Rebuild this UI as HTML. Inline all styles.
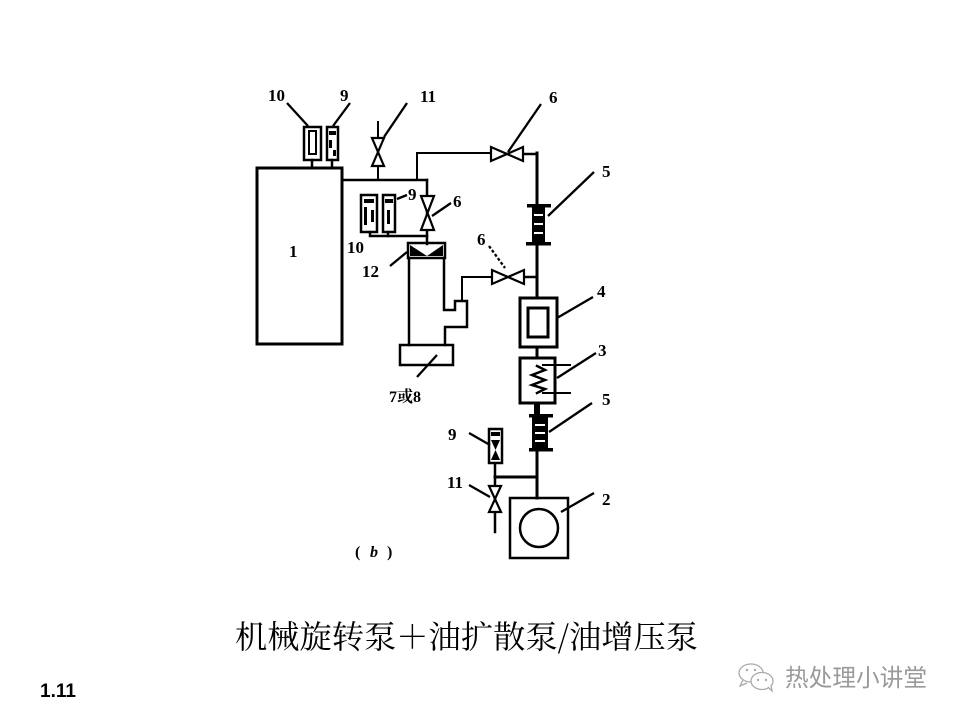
<!DOCTYPE html>
<html><head><meta charset="utf-8">
<style>
html,body{margin:0;padding:0;background:#fff;}
svg{display:block;}
</style></head>
<body>
<svg width="960" height="720" viewBox="0 0 960 720" xmlns="http://www.w3.org/2000/svg">
<rect width="960" height="720" fill="#fff"/>
<g stroke="#000" stroke-width="2.5" fill="none" stroke-linecap="square">
  <rect x="304" y="127" width="17" height="33"/>
  <rect x="309" y="131" width="7" height="23" stroke-width="2"/>
  <rect x="327" y="127" width="11" height="33"/>
  <line x1="312" y1="160" x2="312" y2="168"/>
  <line x1="332" y1="160" x2="332" y2="168"/>
  <rect x="257" y="168" width="85" height="176" stroke-width="3"/>
  <polyline points="342,180 427,180"/>
  <line x1="378" y1="122" x2="378" y2="180" stroke-width="2"/>
  <polyline points="417,180 417,153 490,153" stroke-width="2"/>
  <line x1="524" y1="154" x2="537" y2="154"/>
  <line x1="427" y1="180" x2="427" y2="244"/>
  <rect x="361" y="195" width="16" height="37"/>
  <rect x="383" y="195" width="12" height="37"/>
  <polyline points="370,232 370,236 427,236"/>
  <line x1="388" y1="232" x2="388" y2="236"/>
  <rect x="408" y="243" width="37" height="15"/>
  <line x1="409" y1="258" x2="409" y2="345"/>
  <polyline points="444,258 444,310 455,310 455,301 467,301 467,327 445,327 445,345"/>
  <polyline points="462,301 462,277 492,277" stroke-width="2"/>
  <line x1="524" y1="277" x2="537" y2="277"/>
  <rect x="400" y="345" width="53" height="20"/>
  <line x1="537" y1="153" x2="537" y2="498" stroke-width="3"/>
  <rect x="520" y="298" width="37" height="49" fill="#fff" stroke-width="3"/>
  <rect x="528" y="308" width="20" height="29" stroke-width="3"/>
  <rect x="520" y="358" width="35" height="45" fill="#fff" stroke-width="3"/>
  <line x1="543" y1="365" x2="570" y2="365" stroke-width="2"/>
  <line x1="543" y1="393" x2="570" y2="393" stroke-width="2"/>
  <polyline points="537,366 545,370 532,375 545,380 532,385 545,389 537,393" stroke-width="2.5"/>
  <rect x="510" y="498" width="58" height="60" stroke-width="2.5"/>
  <circle cx="539" cy="528" r="19" stroke-width="2.5"/>
  <line x1="495" y1="477" x2="537" y2="477" stroke-width="3"/>
  <line x1="495" y1="463" x2="495" y2="532" stroke-width="2.5"/>
  <rect x="489" y="429" width="13" height="34" fill="#fff"/>
</g>
<g fill="#fff" stroke="#000" stroke-width="2.2" stroke-linejoin="miter">
  <polygon points="372,138 384,138 378,152"/>
  <polygon points="372,166 384,166 378,152"/>
  <polygon points="491,147 491,161 507,154"/>
  <polygon points="523,147 523,161 507,154"/>
  <polygon points="421,196 434,196 427.5,213"/>
  <polygon points="421,230 434,230 427.5,213"/>
  <polygon points="492,270 492,284 508,277"/>
  <polygon points="524,270 524,284 508,277"/>
  <polygon points="489,486 501,486 495,499"/>
  <polygon points="489,512 501,512 495,499"/>
</g>
<g fill="#000">
  <rect x="329" y="131" width="7" height="4"/>
  <rect x="329" y="140" width="3" height="8"/>
  <rect x="333" y="150" width="3" height="6"/>
  <rect x="364" y="199" width="10" height="4"/>
  <rect x="364" y="207" width="3" height="18"/>
  <rect x="371" y="210" width="3" height="12"/>
  <rect x="385" y="199" width="8" height="4"/>
  <rect x="387" y="210" width="3" height="14"/>
  <rect x="491" y="432" width="9" height="4"/>
  <polygon points="491,440 500,440 495.5,450"/>
  <polygon points="491,460 500,460 495.5,450"/>
  <polygon points="410,245 427,256 443,245 443,256 410,256"/>
  <rect x="527" y="204" width="24" height="3.5"/>
  <rect x="532" y="207" width="13" height="36"/>
  <rect x="526" y="242" width="25" height="3.5"/>
  <rect x="529" y="414" width="24" height="3.5"/>
  <rect x="532" y="417" width="16" height="32"/>
  <rect x="529" y="448" width="24" height="3.5"/>
  <rect x="534" y="403" width="6" height="12"/>
</g>
<g fill="#fff">
  <polygon points="413,247 427,254 440,247"/>
  <rect x="534" y="214" width="9" height="2"/>
  <rect x="534" y="223" width="9" height="2"/>
  <rect x="534" y="232" width="9" height="2"/>
  <rect x="535" y="424" width="10" height="2"/>
  <rect x="535" y="432" width="10" height="2"/>
  <rect x="535" y="440" width="10" height="2"/>
</g>
<g stroke="#000" stroke-width="2.3" fill="none">
  <line x1="287" y1="103" x2="308" y2="126"/>
  <line x1="350" y1="103" x2="333" y2="126"/>
  <line x1="407" y1="103" x2="384" y2="137"/>
  <line x1="541" y1="104" x2="508" y2="152"/>
  <line x1="451" y1="203" x2="432" y2="216"/>
  <line x1="397" y1="199" x2="407" y2="195"/>
  <line x1="390" y1="266" x2="407" y2="252"/>
  <line x1="489" y1="246" x2="505" y2="268" stroke-dasharray="3,2"/>
  <line x1="437" y1="355" x2="417" y2="377"/>
  <line x1="594" y1="172" x2="548" y2="216"/>
  <line x1="593" y1="297" x2="557" y2="318"/>
  <line x1="596" y1="353" x2="557" y2="378"/>
  <line x1="592" y1="403" x2="549" y2="432"/>
  <line x1="594" y1="493" x2="561" y2="512"/>
  <line x1="469" y1="433" x2="490" y2="445"/>
  <line x1="469" y1="485" x2="490" y2="497"/>
</g>
<g font-family="'Liberation Serif', serif" font-size="17" fill="#000" font-weight="bold">
  <text x="268" y="101">10</text>
  <text x="340" y="101">9</text>
  <text x="420" y="102">11</text>
  <text x="549" y="103">6</text>
  <text x="289" y="257">1</text>
  <text x="453" y="207">6</text>
  <text x="408" y="200">9</text>
  <text x="347" y="253">10</text>
  <text x="362" y="277">12</text>
  <text x="477" y="245">6</text>
  <text x="602" y="177">5</text>
  <text x="597" y="297">4</text>
  <text x="598" y="356">3</text>
  <text x="602" y="405">5</text>
  <text x="602" y="505">2</text>
  <text x="448" y="440">9</text>
  <text x="447" y="488">11</text>
  <text x="389" y="402" font-family="'Liberation Serif','Noto Serif CJK SC',serif" font-size="16">7或8</text>
  <text x="355" y="557" font-size="16">(</text>
  <text x="370" y="557" font-size="16" font-style="italic">b</text>
  <text x="387" y="557" font-size="16">)</text>
</g>
<text x="235" y="648" font-family="'Noto Serif CJK SC', 'Noto Sans CJK SC', serif" font-size="32" fill="#000" textLength="463" lengthAdjust="spacingAndGlyphs">机械旋转泵＋油扩散泵/油增压泵</text>
<text x="40" y="697" font-family="'Liberation Sans', sans-serif" font-size="19" font-weight="bold" fill="#000">1.11</text>
<g stroke="#aaa" stroke-width="1.3" fill="#fff">
  <ellipse cx="751" cy="673" rx="12" ry="9"/>
  <path d="M743,680 l-3,6 l7,-3"/>
  <ellipse cx="762" cy="681" rx="11" ry="8.5"/>
  <path d="M768,687 l4,4 l-1,-6"/>
</g>
<g fill="#aaa">
  <circle cx="747" cy="670" r="1.2"/><circle cx="755" cy="670" r="1.2"/>
  <circle cx="758" cy="680" r="1.2"/><circle cx="766" cy="680" r="1.2"/>
</g>
<text x="785" y="686" font-family="'Noto Sans CJK SC', sans-serif" font-size="24" fill="#9a9a9a" textLength="142" lengthAdjust="spacingAndGlyphs">热处理小讲堂</text>
</svg>
</body></html>
